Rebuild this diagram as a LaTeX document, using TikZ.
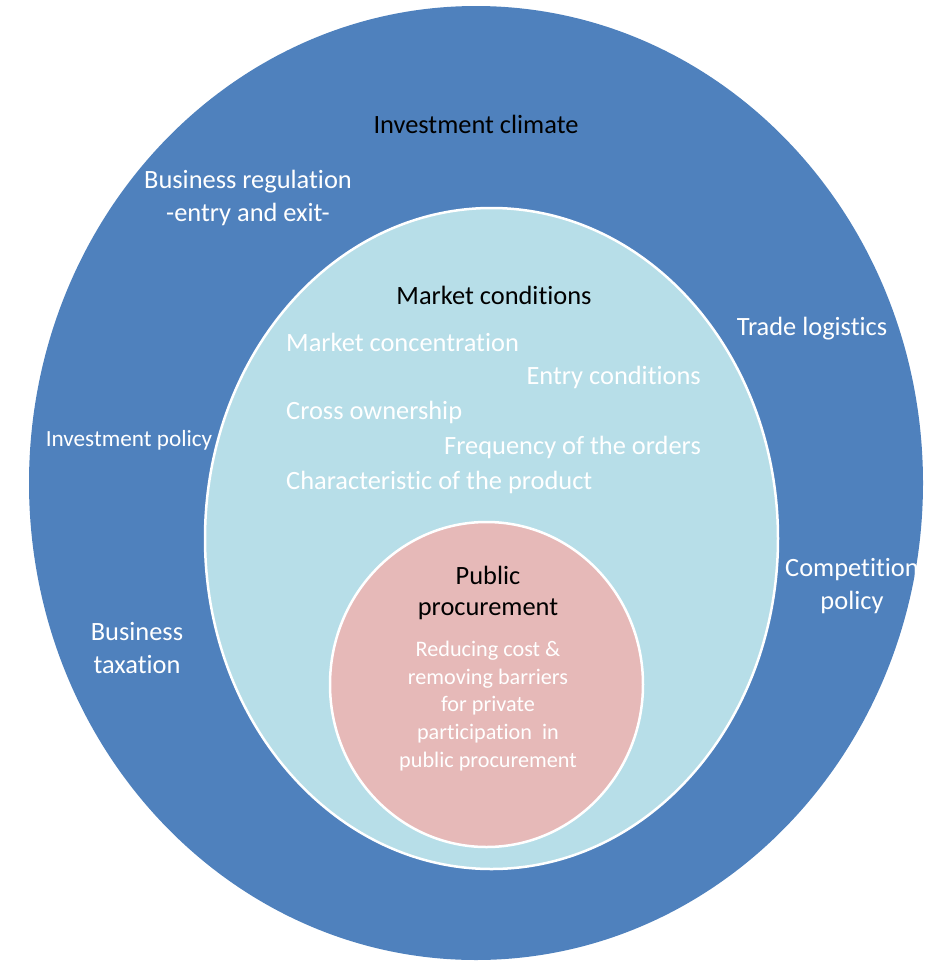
\documentclass[tikz,border=0pt]{standalone}
\usepackage{fontspec}
\setmainfont{Carlito}[Ligatures=NoCommon]
\usetikzlibrary{shapes.geometric}
\definecolor{climateblue}{HTML}{4F81BD}
\definecolor{marketblue}{HTML}{B7DEE8}
\definecolor{procpink}{HTML}{E6B9B8}
\begin{document}
\begin{tikzpicture}[x=1pt,y=-1pt]
  \tikzset{RingStyle/.style={ellipse,inner sep=0pt,draw=white,line width=2.5pt}}
  \tikzset{LabelStyle/.style={align=center,inner sep=0pt,text=white,
                              font=\fontsize{26.4}{33}\selectfont}}
  \tikzset{TitleStyle/.style={LabelStyle,text=black}}
  \tikzset{SmallStyle/.style={LabelStyle,font=\fontsize{22.2}{27.8}\selectfont}}
  \useasboundingbox (0,0) rectangle (940,962);
  \node[RingStyle,draw=none,fill=climateblue,
        minimum width=894pt,minimum height=954pt] (climate) at (476,483) {};
  \node[RingStyle,fill=marketblue,
        minimum width=573pt,minimum height=661pt] (market) at (491.5,538.5) {};
  \node[RingStyle,fill=procpink,
        minimum width=313pt,minimum height=325pt] (procurement) at (486.5,684.5) {};
  \node[TitleStyle] (climateT) at (476,124) {Investment climate};
  \node[LabelStyle] (regulation) at (248,198) {Business regulation\\-entry and exit-};
  \node[LabelStyle] (trade) at (812,329) {Trade logistics};
  \node[LabelStyle,font=\fontsize{23.2}{29}\selectfont] (invpolicy) at (129,440) {Investment policy};
  \node[LabelStyle] (competition) at (852,586) {Competition\\policy};
  \node[LabelStyle] (taxation) at (137,648) {Business\\taxation};
  \node[TitleStyle] (marketT) at (494,295) {Market conditions};
  \node[LabelStyle,anchor=west] (concentration) at (286,342) {Market concentration};
  \node[LabelStyle,anchor=east] (entry) at (701,377) {Entry conditions};
  \node[LabelStyle,anchor=west] (ownership) at (286,412) {Cross ownership};
  \node[LabelStyle,anchor=east] (frequency) at (701,447) {Frequency of the orders};
  \node[LabelStyle,anchor=west] (product) at (286,482) {Characteristic of the product};
  \node[TitleStyle,font=\fontsize{26.4}{31}\selectfont] (procurementT) at (488,593) {Public\\procurement};
  \node[SmallStyle] (reducing) at (488,706) {Reducing cost \&\\removing barriers\\for private\\participation~ in\\public procurement};
\end{tikzpicture}
\end{document}
